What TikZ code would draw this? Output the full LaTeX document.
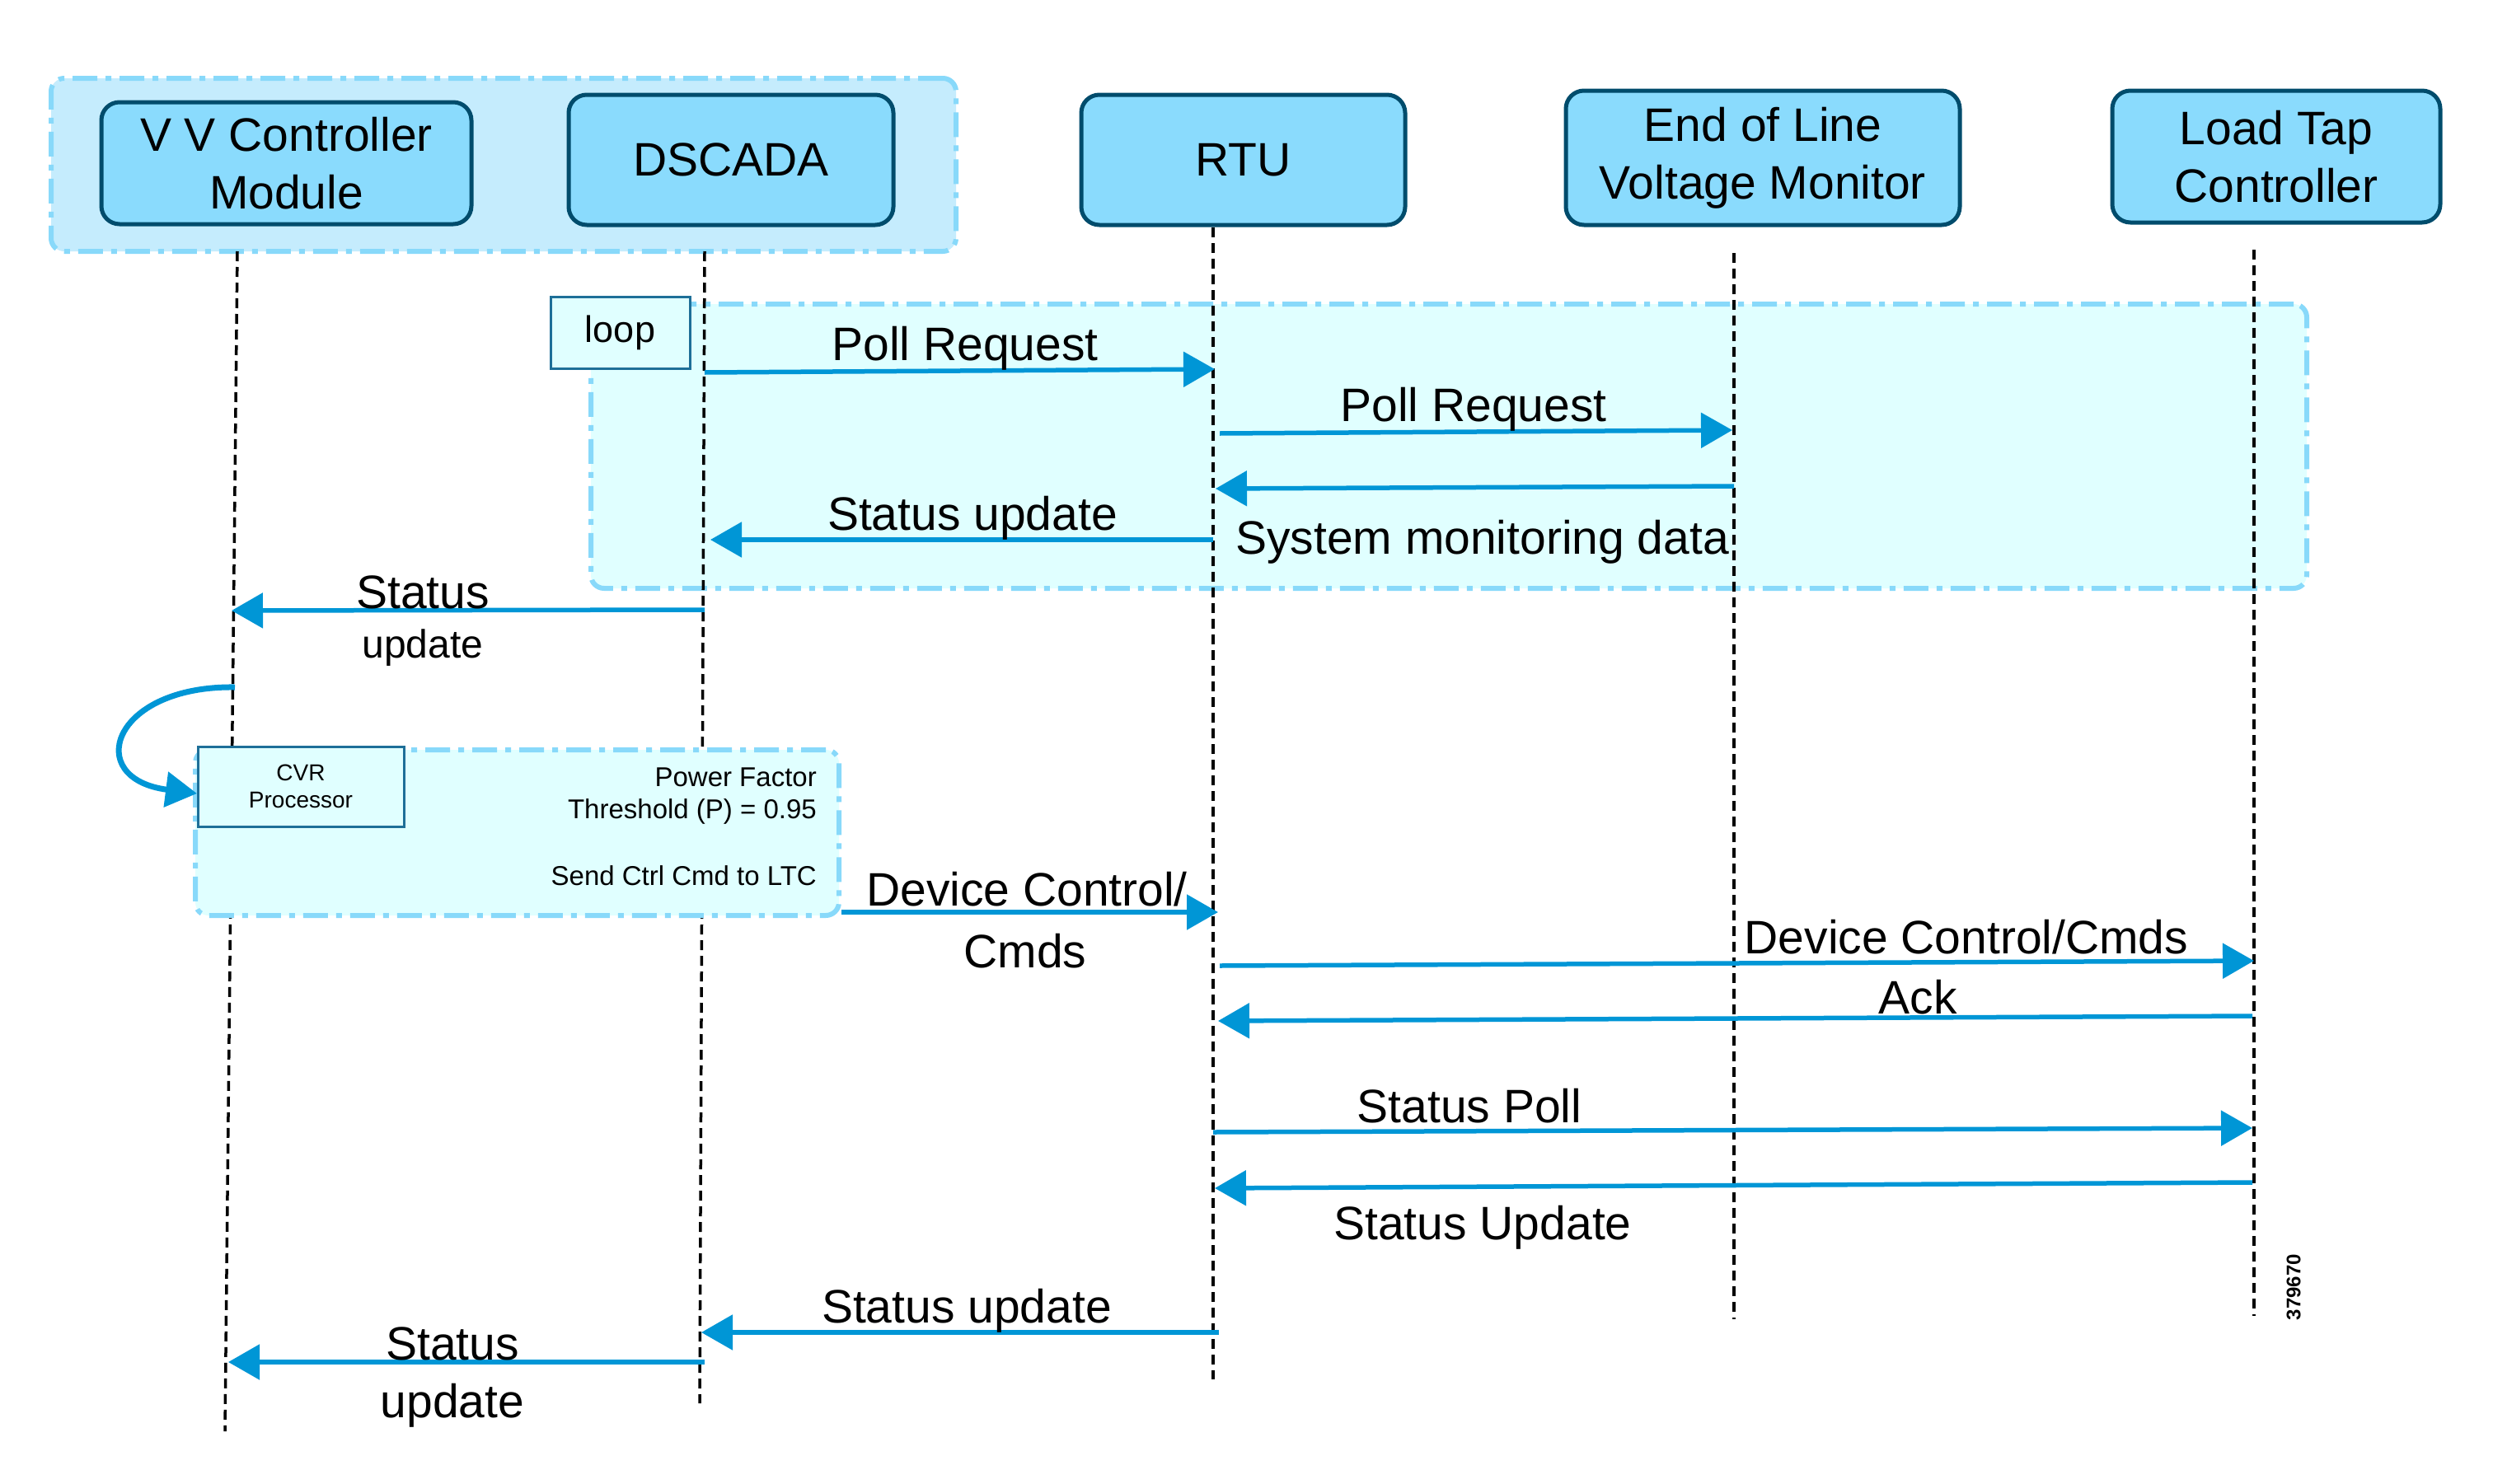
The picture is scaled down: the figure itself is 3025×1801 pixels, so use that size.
\documentclass[tikz,border=0pt]{standalone}
\usepackage{fontspec}
\setmainfont{Liberation Sans}
\usetikzlibrary{arrows.meta}
\definecolor{arrowblue}{HTML}{0096D6}
\definecolor{actorfill}{HTML}{8ADBFD}
\definecolor{actorline}{HTML}{004C6C}
\definecolor{grpfill}{HTML}{C5ECFD}
\definecolor{grpline}{HTML}{88D9FA}
\definecolor{loopfill}{HTML}{E0FFFF}
\definecolor{tagline}{HTML}{1E6F98}
\newcommand\msgfont{\fontsize{57pt}{70pt}\selectfont}
\newcommand\smallmsgfont{\fontsize{48pt}{58pt}\selectfont}
\newcommand\notefont{\fontsize{33pt}{40pt}\selectfont}
\newcommand\cvrfont{\fontsize{28pt}{33pt}\selectfont}
\begin{document}
\begin{tikzpicture}[x=1pt,y=-1pt,
  actor/.style={draw=actorline, fill=actorfill, line width=5pt, rounded corners=22pt,
    align=center, font=\msgfont, inner sep=0pt},
  groupbox/.style={fill=grpfill, draw=grpline, line width=6pt,
    dash pattern=on 30pt off 10pt on 7pt off 10pt, rounded corners=16pt, inner sep=0pt},
  loopbox/.style={groupbox, fill=loopfill},
  tagbox/.style={draw=tagline, fill=loopfill, line width=3pt, align=center, inner sep=0pt},
  lifeline/.style={draw=black, line width=3.5pt, dash pattern=on 12pt off 7pt},
  msg/.style={draw=arrowblue, line width=5.5pt, -{Triangle[length=38pt,width=42pt]}},
  lbl/.style={font=\msgfont, anchor=base, inner sep=0pt},
  slbl/.style={font=\smallmsgfont, anchor=base, inner sep=0pt},
  note/.style={font=\notefont, anchor=base east, inner sep=0pt}
]
\useasboundingbox (0,0) rectangle (3025,1801);
\fill[white] (0,0) rectangle (3025,1801);

% groups / frames
\node[groupbox, minimum width=1098pt, minimum height=210pt] (hdr) at (611,200) {};
\node[loopbox, minimum width=2082pt, minimum height=345pt] (loopfr) at (1758,541.5) {};

% lifelines
\coordinate (vvT) at (288,305);  \coordinate (vvB) at (273,1737);
\coordinate (dsT) at (855,305);  \coordinate (dsB) at (849,1703);
\coordinate (rtT) at (1472,276); \coordinate (rtB) at (1472,1674);
\coordinate (eoT) at (2104,307); \coordinate (eoB) at (2104,1601);
\coordinate (ltT) at (2735,303); \coordinate (ltB) at (2735,1597);
\draw[lifeline] (vvT) -- (vvB);
\draw[lifeline] (dsT) -- (dsB);
\draw[lifeline] (rtT) -- (rtB);
\draw[lifeline] (eoT) -- (eoB);
\draw[lifeline] (ltT) -- (ltB);

% CVR group
\node[loopbox, minimum width=781pt, minimum height=201pt] (cvrgrp) at (627.5,1010.5) {};
\node[tagbox, font=\cvrfont, minimum width=250pt, minimum height=97pt] (cvr) at (365,954.5) {CVR\\Processor};
\node[note] (pf) at (991,954) {Power Factor};
\node[note] (thr) at (991,993) {Threshold (P) = 0.95};
\node[note] (send) at (991,1074) {Send Ctrl Cmd to LTC};

% loop tag
\node[tagbox, font=\fontsize{45pt}{54pt}\selectfont, minimum width=169pt, minimum height=87pt] (looptag) at (752.5,403.5) {\raisebox{-3pt}{loop}};

% actors
\node[actor, minimum width=449pt, minimum height=148pt] (vv) at (347.5,198) {V V Controller\\Module};
\node[actor, minimum width=394pt, minimum height=158pt] (ds) at (887,194) {DSCADA};
\node[actor, minimum width=393pt, minimum height=158pt] (rtu) at (1508.5,194) {RTU};
\node[actor, minimum width=478pt, minimum height=163pt] (eol) at (2139,191.5) {\raisebox{-5pt}{End of Line}\\\raisebox{-5pt}{Voltage Monitor}};
\node[actor, minimum width=398pt, minimum height=160pt] (ltc) at (2762,190) {Load Tap\\Controller};

% messages
\coordinate (m1a) at (855,452);   \coordinate (m1b) at (1474,448);
\coordinate (m2a) at (1480,526);  \coordinate (m2b) at (2102,522);
\coordinate (m3a) at (2104,590);  \coordinate (m3b) at (1475,593);
\coordinate (m4a) at (1472,655);  \coordinate (m4b) at (862,655);
\coordinate (m5a) at (855,740);   \coordinate (m5b) at (281,741);
\coordinate (s1a) at (285,834);   \coordinate (s1b) at (239,963);
\coordinate (m8b) at (1478,1107);
\coordinate (m9a) at (1480,1172); \coordinate (m9b) at (2735,1166);
\coordinate (m10a) at (2733,1233); \coordinate (m10b) at (1478,1239);
\coordinate (m11a) at (1472,1374); \coordinate (m11b) at (2733,1369);
\coordinate (m12a) at (2733,1435); \coordinate (m12b) at (1474,1442);
\coordinate (m13a) at (1479,1617); \coordinate (m13b) at (851,1617);
\coordinate (m14a) at (855,1653); \coordinate (m14b) at (277,1653);

\draw[msg] (m1a) -- (m1b);
\draw[msg] (m2a) -- (m2b);
\draw[msg] (m3a) -- (m3b);
\draw[msg] (m4a) -- (m4b);
\draw[msg] (m5a) -- (m5b);
\draw[msg, line width=7pt] (s1a) .. controls (135,832) and (100,945) .. (s1b);
\draw[msg] (cvrgrp.east |- m8b) -- (m8b);
\draw[msg] (m9a) -- (m9b);
\draw[msg] (m10a) -- (m10b);
\draw[msg] (m11a) -- (m11b);
\draw[msg] (m12a) -- (m12b);
\draw[msg] (m13a) -- (m13b);
\draw[msg] (m14a) -- (m14b);

% labels
\node[lbl] (l1) at (1171,437) {Poll Request};
\node[lbl] (l2) at (1788,511) {Poll Request};
\node[lbl, anchor=base west] (l3) at (1499,672) {System monitoring data};
\node[lbl] (l4) at (1180,643) {Status update};
\node[lbl] (l5a) at (513,738) {Status};
\node[slbl] (l5b) at (513,798) {update};
\node[lbl] (l8a) at (1246,1099) {Device Control/};
\node[lbl] (l8b) at (1244,1174) {Cmds};
\node[lbl] (l9) at (2386,1157) {Device Control/Cmds};
\node[lbl] (l10) at (2327,1230) {Ack};
\node[lbl] (l11) at (1783,1362) {Status Poll};
\node[lbl] (l12) at (1799,1504) {Status Update};
\node[lbl] (l13) at (1173,1605) {Status update};
\node[lbl] (l14a) at (549,1650) {Status};
\node[lbl] (l14b) at (549,1720) {update};

\node[rotate=90, font=\fontsize{24pt}{28pt}\selectfont\bfseries, inner sep=0pt] (fig) at (2783,1562) {379670};
\end{tikzpicture}
\end{document}
